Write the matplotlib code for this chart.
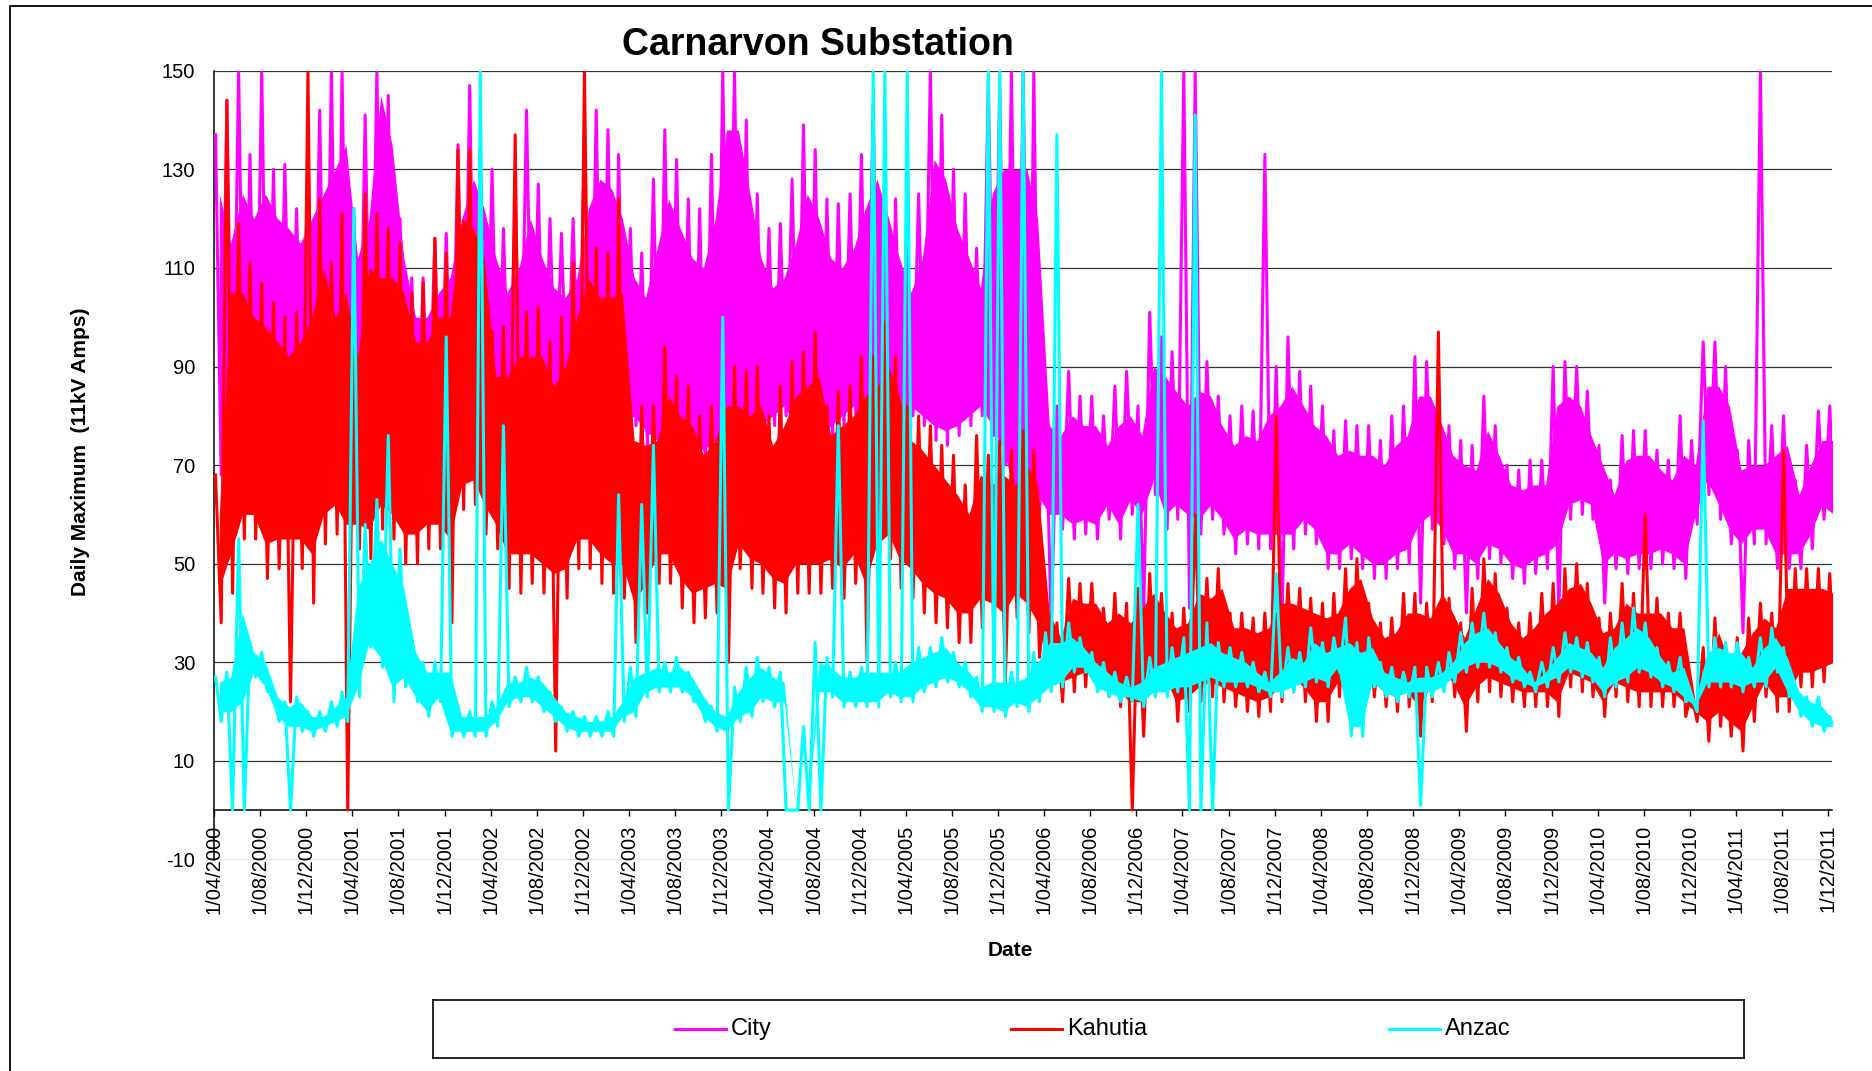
import numpy as np
import pandas as pd
import matplotlib
matplotlib.use('Agg')
import matplotlib.pyplot as plt
from matplotlib.patches import Rectangle

plt.rcParams['font.family'] = ['Liberation Sans', 'DejaVu Sans']
plt.rcParams['axes.unicode_minus'] = False

# monthly readings, Apr 2000 .. Dec 2011 (daily max amps)
# *_hi / *_lo : highest and lowest day in the month (spikes and drop-outs included)
# *_top / *_bottom : the usual daily range for the month
months = pd.date_range('2000-04-01', '2011-12-01', freq='MS')

city_hi = [137, 144, 150, 133, 150, 130, 131, 122, 133, 142, 150, 150, 122, 141, 150, 145, 120, 108, 108, 116, 117, 135, 147, 135,
           130, 118, 123, 142, 127, 120, 117, 120, 138, 142, 138, 133, 118, 113, 128, 138, 132, 124, 122, 133, 150, 150, 140, 125,
           118, 119, 128, 139, 134, 124, 123, 125, 133, 143, 131, 124, 114, 125, 150, 141, 130, 125, 114, 148, 147, 150, 150, 150,
           85, 82, 89, 84, 84, 80, 86, 89, 82, 101, 96, 93, 150, 150, 91, 84, 80, 82, 81, 133, 90, 96, 89, 86,
           82, 77, 79, 78, 78, 75, 80, 82, 92, 91, 85, 78, 75, 74, 84, 78, 70, 69, 71, 71, 90, 91, 90, 85,
           74, 67, 76, 77, 77, 73, 71, 80, 75, 95, 95, 90, 73, 75, 150, 78, 80, 67, 74, 81, 82]
city_lo = [68, 70, 72, 75, 72, 75, 78, 76, 74, 72, 70, 72, 75, 76, 78, 75, 72, 70, 74, 76, 75, 72, 70, 74,
           76, 78, 80, 78, 76, 80, 82, 78, 75, 72, 74, 76, 78, 74, 72, 74, 76, 72, 70, 72, 75, 72, 74, 76,
           78, 80, 76, 74, 72, 76, 78, 80, 76, 74, 72, 76, 80, 78, 75, 74, 76, 78, 80, 76, 70, 60, 58, 60,
           37, 57, 55, 56, 55, 59, 55, 60, 40, 64, 57, 59, 41, 56, 59, 56, 52, 54, 53, 53, 38, 53, 56, 54,
           49, 49, 51, 49, 47, 47, 49, 50, 42, 57, 54, 49, 40, 47, 51, 50, 47, 46, 48, 49, 40, 59, 60, 59,
           42, 49, 48, 49, 49, 50, 49, 47, 58, 64, 59, 54, 36, 54, 54, 49, 49, 49, 53, 59, 57]
city_top = [125, 115, 125, 120, 125, 120, 118, 115, 120, 125, 130, 135, 112, 120, 145, 135, 112, 100, 100, 105, 108, 120, 128, 122,
            112, 105, 110, 120, 112, 106, 104, 108, 122, 128, 126, 120, 108, 104, 114, 124, 118, 112, 110, 120, 138, 138, 125, 112,
            106, 108, 115, 125, 120, 112, 110, 114, 122, 128, 120, 112, 105, 112, 132, 128, 118, 112, 106, 125, 130, 130, 130, 120,
            78, 76, 80, 78, 78, 74, 78, 80, 76, 90, 88, 85, 82, 85, 84, 78, 74, 76, 75, 80, 82, 86, 82, 78,
            76, 72, 73, 72, 72, 70, 74, 76, 84, 84, 78, 72, 70, 69, 77, 72, 66, 65, 66, 66, 82, 84, 82, 76,
            70, 64, 71, 72, 72, 69, 67, 72, 70, 86, 86, 82, 69, 70, 70, 72, 74, 64, 70, 75, 75]
city_bottom = [72, 74, 76, 78, 76, 78, 80, 78, 78, 76, 74, 76, 78, 80, 82, 78, 76, 74, 77, 78, 78, 76, 74, 77,
               78, 80, 82, 80, 78, 82, 84, 80, 78, 76, 77, 78, 80, 77, 75, 77, 78, 75, 73, 75, 78, 76, 77, 78,
               80, 82, 78, 77, 75, 78, 80, 82, 78, 77, 75, 78, 82, 80, 78, 77, 78, 80, 82, 78, 73, 64, 62, 64,
               60, 60, 58, 59, 58, 62, 58, 63, 60, 67, 60, 62, 60, 59, 62, 59, 55, 57, 56, 56, 56, 56, 59, 57,
               52, 52, 54, 52, 50, 50, 52, 53, 58, 60, 57, 52, 52, 50, 54, 53, 50, 49, 51, 52, 54, 62, 63, 62,
               50, 52, 51, 52, 52, 53, 52, 50, 60, 67, 62, 57, 54, 57, 57, 52, 52, 52, 56, 62, 60]

kahutia_hi = [68, 144, 119, 111, 107, 103, 100, 101, 150, 124, 111, 121, 101, 125, 121, 118, 115, 105, 107, 116, 113, 134, 134, 128,
              97, 98, 137, 101, 102, 95, 100, 111, 150, 114, 113, 124, 82, 82, 82, 94, 88, 86, 80, 82, 91, 90, 89, 90,
              80, 86, 91, 93, 97, 82, 85, 86, 92, 92, 99, 92, 82, 80, 78, 74, 72, 66, 76, 72, 75, 73, 77, 73,
              44, 38, 47, 46, 46, 41, 44, 42, 45, 48, 44, 40, 41, 60, 47, 49, 40, 40, 39, 40, 80, 46, 45, 43,
              42, 44, 49, 51, 42, 38, 39, 44, 44, 42, 97, 43, 38, 45, 51, 48, 41, 38, 40, 44, 46, 49, 50, 46,
              39, 40, 46, 44, 60, 43, 40, 40, 24, 33, 39, 33, 35, 39, 42, 40, 73, 49, 49, 49, 48]
kahutia_lo = [38, 44, 55, 55, 47, 49, 22, 49, 42, 54, 56, 0, 53, 51, 57, 55, 50, 50, 53, 53, 38, 61, 62, 56,
              53, 45, 44, 46, 44, 12, 43, 49, 49, 46, 44, 43, 34, 40, 46, 46, 41, 38, 39, 40, 30, 49, 45, 44,
              41, 40, 44, 44, 44, 45, 43, 46, 30, 49, 51, 45, 43, 40, 38, 37, 34, 34, 37, 36, 26, 39, 36, 31,
              25, 22, 24, 25, 26, 23, 21, 0, 15, 23, 24, 18, 20, 22, 23, 22, 21, 20, 19, 20, 22, 24, 22, 18,
              18, 23, 21, 25, 23, 21, 20, 21, 15, 22, 25, 23, 16, 22, 24, 23, 22, 21, 21, 21, 19, 25, 24, 23,
              19, 23, 22, 21, 21, 21, 21, 19, 18, 14, 17, 15, 12, 18, 23, 20, 20, 25, 25, 26, 27]
kahutia_top = [60, 105, 105, 100, 98, 95, 92, 95, 100, 110, 100, 105, 92, 110, 108, 108, 105, 95, 95, 100, 100, 120, 118, 112,
               88, 88, 92, 92, 92, 86, 90, 100, 108, 104, 104, 105, 75, 74, 75, 84, 80, 78, 72, 75, 82, 82, 80, 82,
               74, 78, 84, 86, 88, 76, 78, 80, 84, 86, 90, 84, 75, 73, 70, 67, 64, 60, 68, 66, 68, 66, 70, 66,
               40, 35, 43, 42, 42, 38, 40, 38, 41, 44, 40, 37, 38, 44, 43, 45, 37, 37, 36, 37, 42, 42, 41, 40,
               39, 40, 45, 47, 39, 35, 36, 40, 40, 39, 44, 40, 35, 41, 47, 44, 38, 35, 37, 40, 42, 45, 46, 42,
               36, 37, 42, 40, 40, 40, 37, 37, 22, 30, 36, 30, 32, 36, 39, 37, 45, 45, 45, 45, 44]
kahutia_bottom = [45, 52, 60, 60, 54, 55, 55, 55, 52, 60, 62, 58, 58, 57, 62, 60, 56, 56, 58, 58, 55, 66, 67, 62,
                  58, 52, 52, 52, 50, 48, 49, 55, 55, 52, 50, 50, 42, 46, 52, 52, 47, 44, 45, 46, 45, 54, 51, 50,
                  47, 46, 50, 50, 50, 51, 49, 52, 46, 54, 56, 51, 49, 46, 44, 43, 40, 40, 43, 42, 40, 44, 42, 38,
                  28, 26, 27, 28, 29, 26, 24, 22, 22, 26, 27, 22, 23, 25, 26, 25, 24, 23, 22, 23, 25, 27, 25, 22,
                  22, 26, 24, 28, 26, 24, 23, 24, 21, 25, 28, 26, 21, 25, 27, 26, 25, 24, 24, 24, 22, 28, 27, 26,
                  22, 26, 25, 24, 24, 24, 24, 22, 20, 18, 20, 18, 16, 21, 26, 23, 23, 28, 28, 29, 30]

anzac_hi = [27, 28, 55, 34, 32, 24, 22, 23, 20, 20, 22, 24, 122, 58, 63, 76, 53, 35, 30, 30, 96, 20, 20, 150,
            22, 78, 27, 29, 27, 24, 21, 20, 19, 19, 20, 64, 29, 62, 74, 30, 31, 28, 24, 21, 100, 25, 29, 31,
            29, 28, 0, 17, 34, 31, 78, 28, 29, 150, 150, 30, 150, 33, 33, 35, 32, 30, 27, 150, 150, 28, 150, 32,
            36, 137, 38, 35, 32, 30, 28, 27, 62, 31, 150, 33, 35, 141, 38, 34, 33, 32, 30, 28, 48, 33, 32, 37,
            34, 35, 39, 34, 35, 30, 29, 28, 29, 29, 30, 32, 36, 38, 40, 36, 33, 31, 28, 30, 33, 36, 35, 34,
            31, 35, 38, 41, 38, 33, 30, 31, 23, 79, 35, 34, 34, 31, 35, 37, 33, 25, 23, 23, 19]
anzac_lo = [18, 0, 0, 27, 24, 18, 0, 16, 15, 16, 17, 18, 23, 33, 29, 22, 25, 22, 19, 22, 15, 15, 15, 15,
            17, 21, 22, 22, 20, 18, 16, 15, 15, 15, 15, 18, 19, 23, 24, 24, 24, 22, 18, 16, 0, 18, 19, 22,
            21, 0, 0, 0, 0, 23, 21, 21, 21, 21, 23, 22, 22, 24, 25, 26, 25, 23, 20, 20, 19, 21, 20, 22,
            24, 25, 28, 28, 24, 23, 22, 22, 21, 23, 23, 24, 0, 0, 0, 25, 25, 25, 24, 23, 23, 24, 25, 26,
            25, 28, 15, 15, 25, 23, 22, 23, 1, 23, 24, 26, 28, 29, 29, 28, 26, 25, 24, 25, 26, 28, 27, 26,
            23, 25, 26, 28, 27, 25, 24, 22, 20, 25, 25, 25, 24, 25, 25, 28, 23, 19, 17, 16, 16]
anzac_top = [26, 27, 40, 32, 30, 23, 21, 22, 19, 19, 21, 23, 45, 50, 55, 50, 45, 32, 28, 28, 28, 19, 19, 19,
             21, 26, 26, 27, 26, 23, 20, 19, 18, 18, 19, 22, 27, 28, 29, 28, 29, 27, 23, 20, 19, 24, 27, 29,
             27, 26, 0, 0, 30, 29, 27, 27, 28, 28, 28, 28, 30, 31, 32, 33, 30, 28, 25, 26, 26, 26, 27, 30,
             34, 34, 35, 33, 30, 28, 26, 25, 26, 29, 30, 31, 32, 33, 34, 32, 31, 30, 28, 26, 28, 31, 30, 34,
             32, 33, 34, 32, 33, 28, 27, 26, 27, 27, 28, 30, 34, 36, 37, 34, 31, 29, 26, 28, 31, 34, 33, 32,
             29, 33, 35, 37, 35, 31, 28, 29, 22, 32, 33, 32, 32, 29, 33, 35, 31, 24, 22, 21, 18]
anzac_bottom = [20, 20, 22, 28, 25, 19, 17, 17, 16, 17, 18, 19, 25, 34, 31, 25, 27, 23, 20, 23, 16, 16, 16, 16,
                18, 22, 23, 23, 21, 19, 17, 16, 16, 16, 16, 19, 20, 24, 25, 25, 25, 23, 19, 17, 16, 19, 20, 23,
                22, 22, 0, 0, 24, 24, 22, 22, 22, 22, 24, 23, 23, 25, 26, 27, 26, 24, 21, 21, 20, 22, 21, 23,
                25, 26, 29, 29, 25, 24, 23, 23, 22, 24, 24, 25, 25, 26, 27, 26, 26, 26, 25, 24, 24, 25, 26, 27,
                26, 29, 17, 17, 26, 24, 23, 24, 24, 24, 25, 27, 29, 30, 30, 29, 27, 26, 25, 26, 27, 29, 28, 27,
                24, 26, 27, 29, 28, 26, 25, 23, 21, 26, 26, 26, 25, 26, 26, 29, 24, 20, 18, 17, 17]

series = [('City', city_hi, city_lo, city_top, city_bottom, '#ff00ff'),
          ('Kahutia', kahutia_hi, kahutia_lo, kahutia_top, kahutia_bottom, '#ff0000'),
          ('Anzac', anzac_hi, anzac_lo, anzac_top, anzac_bottom, '#00ffff')]

tick_dates = pd.date_range('2000-04-01', '2011-12-01', freq='4MS')
tick_labels = [f'{d.day}/{d.month:02d}/{d.year}' for d in tick_dates]


def swing(hi, lo):
    # each month: the high early in the month, the low later on
    xs, ys = [], []
    for m, h, l in zip(months, hi, lo):
        xs += [m + pd.Timedelta(days=4), m + pd.Timedelta(days=19)]
        ys += [h, l]
    return xs, ys


W, H = 1872, 1071
fig = plt.figure(figsize=(W / 100, H / 100), dpi=100)
ax = fig.add_axes([214 / W, 1 - 859.5 / H, (1832 - 214) / W, (859.5 - 70.7) / H])

mid = months + pd.Timedelta(days=14)
# later series sit on top of earlier ones, band and swings together
for i, (name, hi, lo, top, bottom, col) in enumerate(series):
    ax.fill_between(mid, bottom, top, color=col, lw=0, zorder=3 + i)
    xs, ys = swing(hi, lo)
    ax.plot(xs, ys, color=col, lw=2.2, label=name, zorder=3.5 + i)

ax.set_xlim(pd.Timestamp('2000-04-01'), pd.Timestamp('2011-12-11'))
ax.set_ylim(-10, 150)
ax.set_yticks(np.arange(-10, 151, 20))
ax.set_xticks(tick_dates)
ax.set_xticklabels(tick_labels)

ax.yaxis.grid(True, color='#333333', lw=0.9, zorder=1)
ax.set_axisbelow(True)
ax.spines['top'].set_visible(False)
ax.spines['right'].set_visible(False)
ax.spines['left'].set_color('black')
ax.spines['left'].set_linewidth(1.1)
ax.spines['bottom'].set_position(('data', 0))
ax.spines['bottom'].set_linewidth(1.1)
ax.tick_params(axis='x', direction='out', length=4.5, width=1, pad=6, labelsize=14.5, labelrotation=90)
ax.tick_params(axis='y', length=0, pad=13.5, labelsize=14.5)

fig.text(818 / W, 1 - 55 / H, 'Carnarvon Substation', ha='center', va='baseline',
         fontsize=27, fontweight='bold')
fig.text(81 / W, 1 - 452 / H, 'Daily Maximum  (11kV Amps)', rotation=90, ha='center', va='center',
         fontsize=15, fontweight='bold')
fig.text(1010 / W, 1 - 951 / H, 'Date', ha='center', va='center', fontsize=15, fontweight='bold')

# legend box along the bottom
lax = fig.add_axes([433 / W, 1 - 1058 / H, (1744 - 433) / W, 58 / H])
lax.set_xlim(433, 1744)
lax.set_ylim(1058, 1000)
lax.set_xticks([])
lax.set_yticks([])
for sp in lax.spines.values():
    sp.set_linewidth(1.2)
    sp.set_color('black')
for (name, *_, col), x0 in zip(series, [675, 1011, 1389]):
    lax.plot([x0, x0 + 51], [1029, 1029], color=col, lw=2.2)
    lax.text(x0 + 56, 1029, name, ha='left', va='center', fontsize=17)

# chart border
fig.add_artist(Rectangle((9.8 / W, -0.05), 1.1, 1 - 5.7 / H + 0.05, transform=fig.transFigure,
                         fill=False, ec='black', lw=1.3))

fig.savefig('out.png', dpi=100)
